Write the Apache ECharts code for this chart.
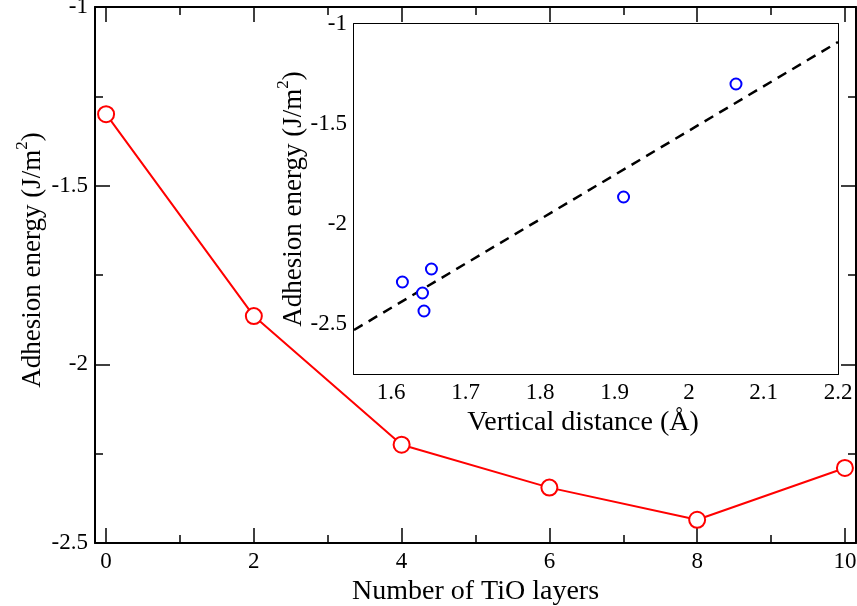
<!DOCTYPE html>
<html>
<head>
<meta charset="utf-8">
<script src="https://cdn.jsdelivr.net/npm/echarts@6/dist/echarts.min.js"></script>
<style>html,body{margin:0;padding:0;background:#fff;}#c{width:857px;height:606px;}</style>
</head>
<body>
<div id="c"></div>
<script>
// ---- data ----
const mainX = [0, 2, 4, 6, 8, 10];
const mainY = [-1.30, -1.865, -2.225, -2.345, -2.435, -2.29];
const insetX = [1.615, 1.654, 1.642, 1.644, 1.912, 2.063];
const insetY = [-2.29, -2.225, -2.345, -2.435, -1.865, -1.30];
const fitX = [1.55, 2.2];
const fitY = [-2.53, -1.09];
// ---- ticks ----
const mainXTicks = [0, 2, 4, 6, 8, 10];
const mainXMinor = [1, 3, 5, 7, 9];
const mainYTicks = [-2.5, -2, -1.5, -1];
const mainYMinor = [-2.25, -1.75, -1.25];
const insetXTicks = [1.6, 1.7, 1.8, 1.9, 2, 2.1, 2.2];
const insetXMinor = [1.65, 1.75, 1.85, 1.95, 2.05, 2.15];
const insetYTicks = [-2.5, -2, -1.5, -1];
const insetYMinor = [-2.25, -1.75, -1.25];

const FONT = 'Liberation Serif';
const yTitle = '{a|Adhesion energy (J/m}{s|2}{a|)}';
const richT = {
  a: {fontFamily: FONT, fontSize: 27, color: '#000', verticalAlign: 'bottom'},
  s: {fontFamily: FONT, fontSize: 17, color: '#000', lineHeight: 17, padding: [0, 0, 15, 0], verticalAlign: 'bottom'}
};

function axisSet(dim, grid, min, max, major, minor, nameCfg) {
  const pos = dim === 'x' ? ['bottom', 'top'] : ['left', 'right'];
  const out = [];
  pos.forEach((p, pi) => {
    [major, minor].forEach((vals, mi) => {
      const ax = {
        type: 'value', gridIndex: grid, position: p, min: min, max: max,
        splitLine: {show: false},
        axisLine: {show: mi === 0, onZero: false, lineStyle: {color: '#000', width: 2}},
        axisTick: {show: true, inside: true, customValues: vals, length: mi === 0 ? 15 : 8,
                   lineStyle: {color: '#000', width: 1.5}},
        axisLabel: {show: false}
      };
      if (pi === 0 && mi === 0) {
        ax.axisLabel = {show: true, customValues: vals, fontFamily: FONT, fontSize: 23, color: '#000', margin: 7};
        Object.assign(ax, nameCfg);
      }
      out.push(ax);
    });
  });
  return out;
}

const xAxes = [].concat(
  axisSet('x', 0, -0.15, 10.15, mainXTicks, mainXMinor, {
    name: 'Number of TiO layers', nameLocation: 'middle', nameGap: 31,
    nameTextStyle: {fontFamily: FONT, fontSize: 28, color: '#000'}
  }),
  axisSet('x', 1, 1.55, 2.2, insetXTicks, insetXMinor, {
    name: 'Vertical distance (Å)', nameLocation: 'middle', nameGap: 30,
    nameTextStyle: {fontFamily: FONT, fontSize: 28, color: '#000', padding: [0, 26, 0, 0]}
  })
);
const yAxes = [].concat(
  axisSet('y', 0, -2.5, -1, mainYTicks, mainYMinor, {
    name: yTitle, nameLocation: 'middle', nameGap: 49, nameMoveOverlap: false,
    nameTextStyle: {fontFamily: FONT, fontSize: 27, color: '#000', rich: richT, padding: [0, 0, 0, 30]}
  }),
  axisSet('y', 1, -2.75, -1, insetYTicks, insetYMinor, {
    name: yTitle, nameLocation: 'middle', nameGap: 47, nameMoveOverlap: false,
    nameTextStyle: {fontFamily: FONT, fontSize: 27, color: '#000', rich: richT}
  })
);

const chart = echarts.init(document.getElementById('c'));
chart.setOption({
  animation: false,
  backgroundColor: '#fff',
  grid: [
    {left: 95, top: 7, width: 761, height: 536, containLabel: false, outerBoundsMode: 'none'},
    {left: 354, top: 24, width: 484, height: 350, show: true, backgroundColor: '#fff', borderWidth: 0, z: 3, containLabel: false, outerBoundsMode: 'none'}
  ],
  xAxis: xAxes,
  yAxis: yAxes,
  series: [
    {
      type: 'line', xAxisIndex: 0, yAxisIndex: 0,
      data: mainX.map((x, i) => [x, mainY[i]]),
      symbol: 'circle', symbolSize: 16, showAllSymbol: true,
      lineStyle: {color: '#ff0000', width: 2},
      itemStyle: {color: '#fff', borderColor: '#ff0000', borderWidth: 2}
    },
    {
      type: 'line', xAxisIndex: 4, yAxisIndex: 4, z: 5,
      data: fitX.map((x, i) => [x, fitY[i]]),
      symbol: 'none',
      lineStyle: {color: '#000', width: 2.5, type: [10, 7]}
    },
    {
      type: 'scatter', xAxisIndex: 4, yAxisIndex: 4, z: 6,
      data: insetX.map((x, i) => [x, insetY[i]]),
      symbol: 'circle', symbolSize: 11,
      itemStyle: {color: '#fff', borderColor: '#0000ff', borderWidth: 2, opacity: 1}
    }
  ]
});
</script>
</body>
</html>
